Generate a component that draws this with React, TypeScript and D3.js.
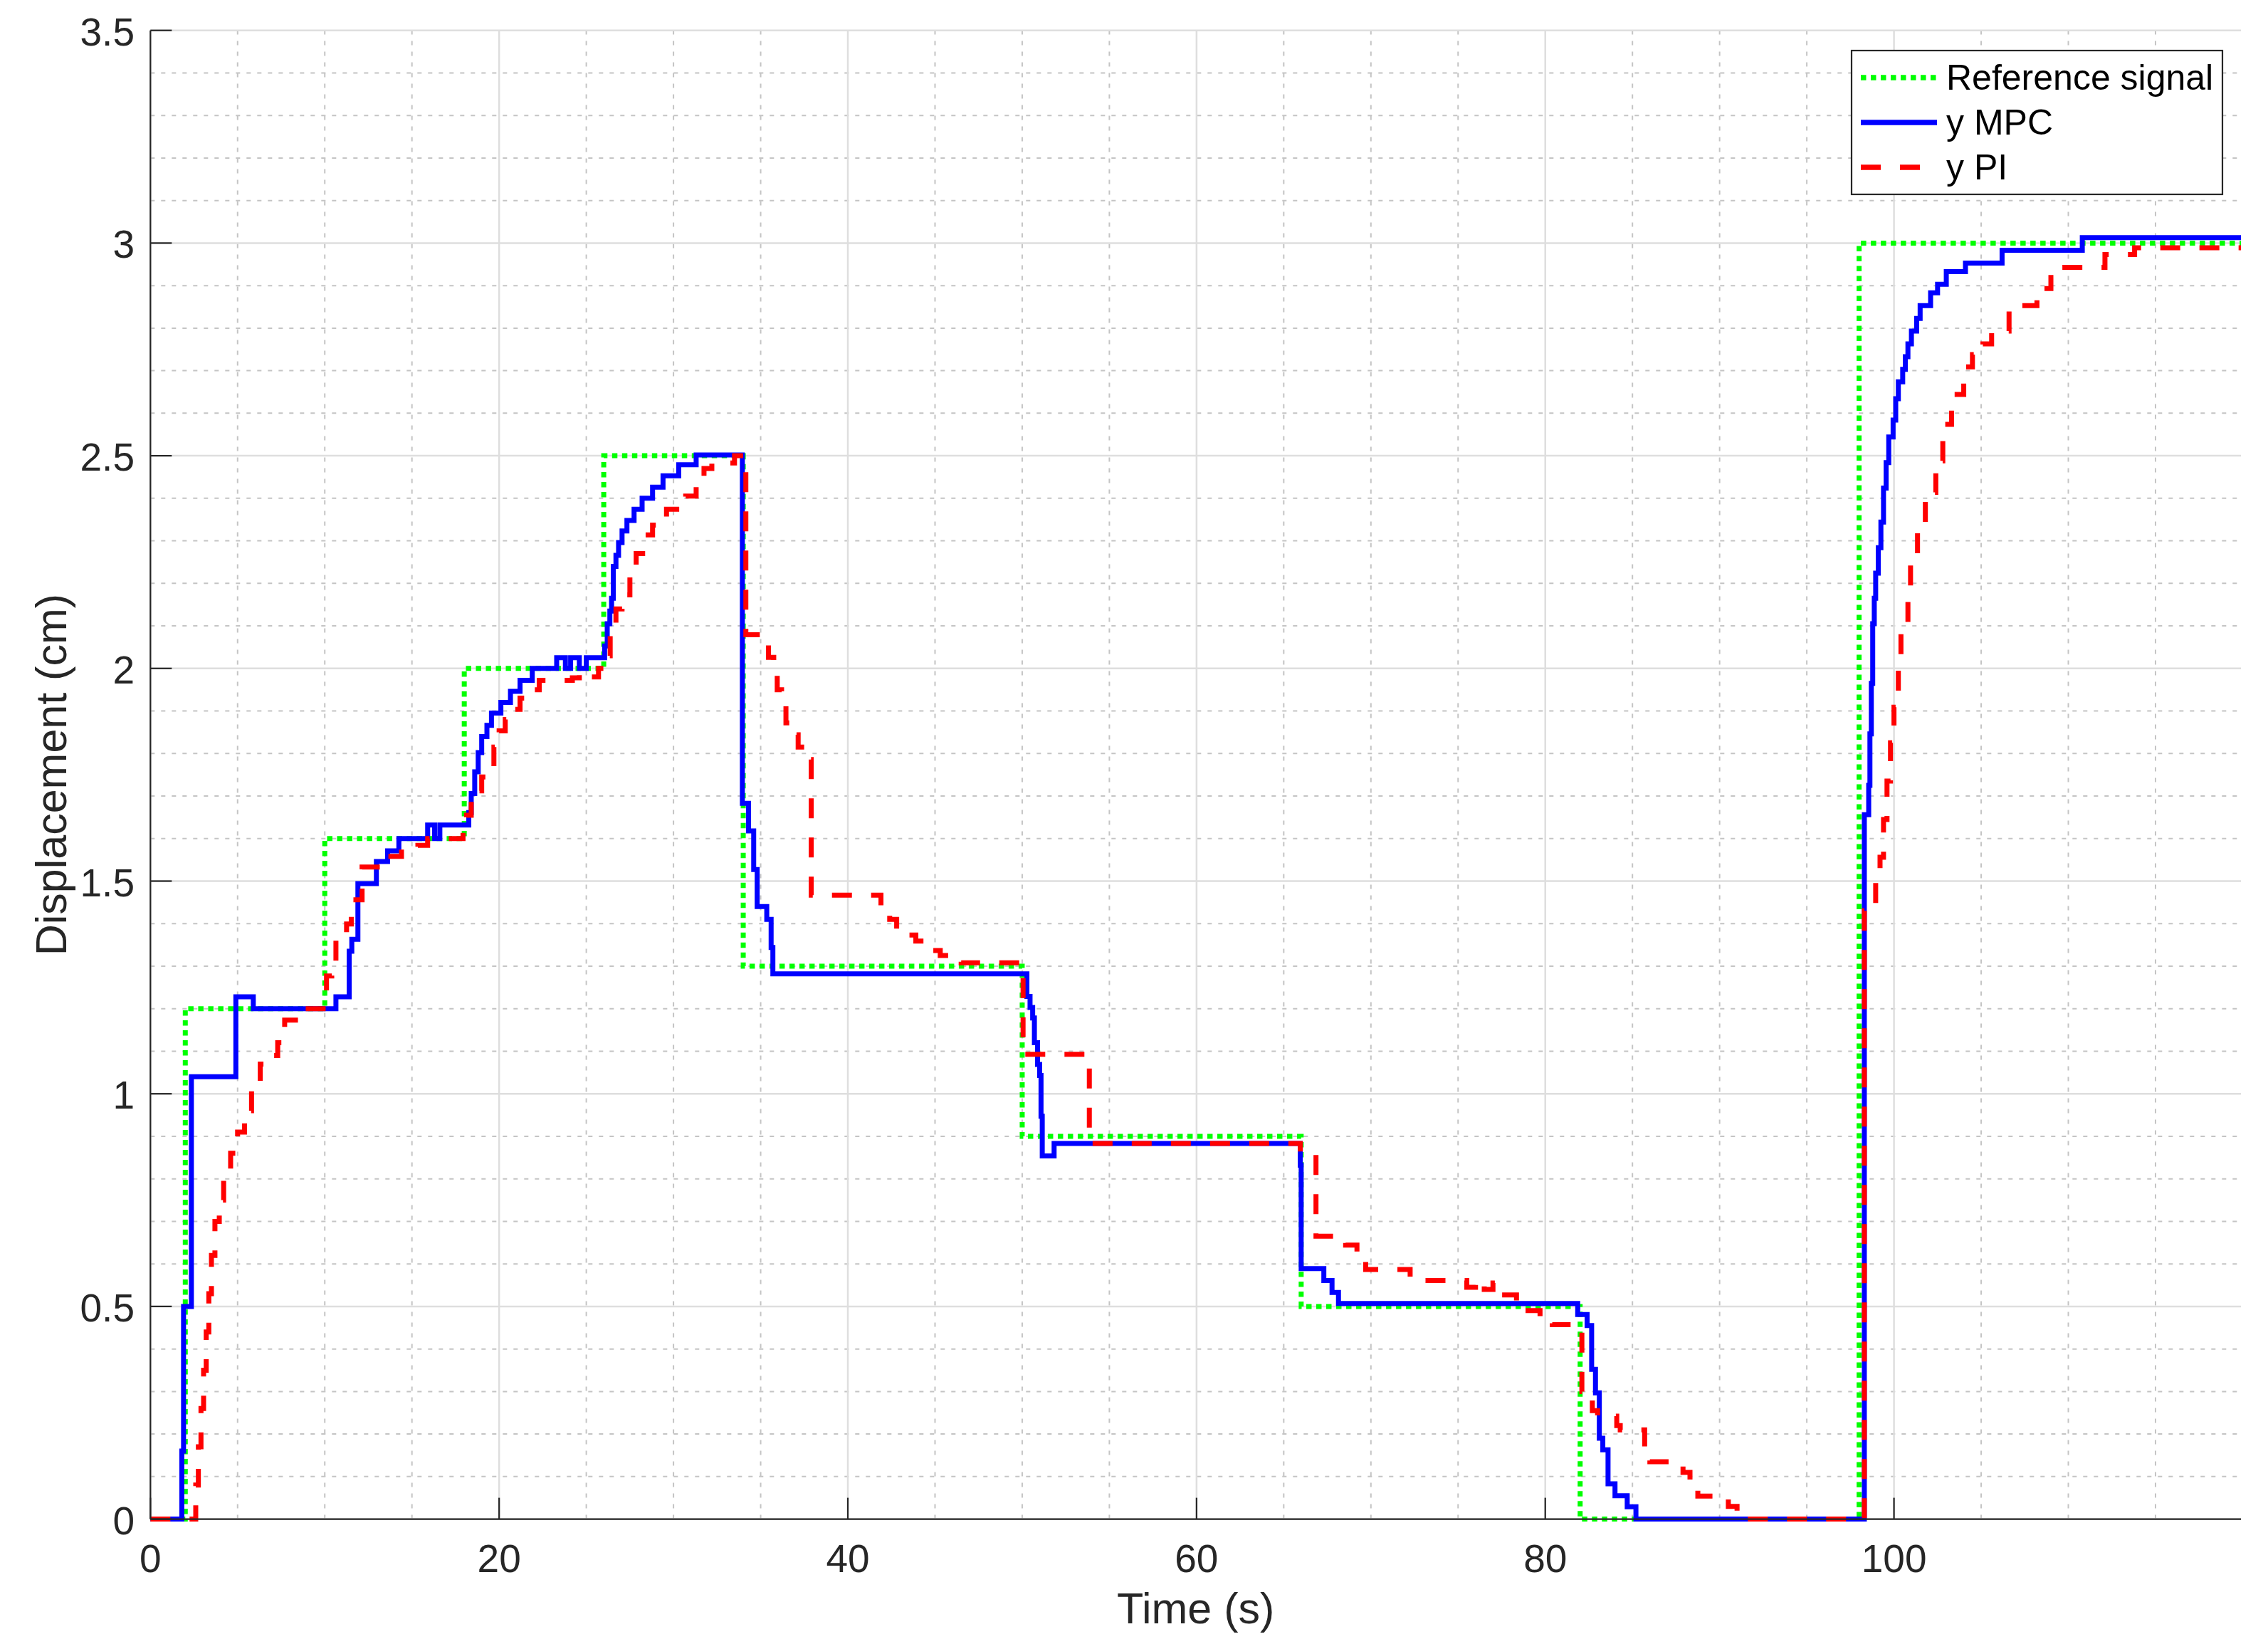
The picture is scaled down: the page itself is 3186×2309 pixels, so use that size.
import React from "react";
import * as d3 from "d3";

// ---------- data ----------
const refTime = [0, 2, 10, 18, 26, 34, 50, 66, 82, 98, 119.9];
const refDisp = [0, 1.2, 1.6, 2.0, 2.5, 1.3, 0.9, 0.5, 0, 3, 3];

const mpcTime = [
  0, 1.8, 1.9, 2.35, 4.9, 5.9, 10.64, 11.4, 11.55, 11.9, 12.96, 13.6, 14.25, 15.9, 16.3, 16.6,
  18.26, 18.4, 18.6, 18.8, 19.0, 19.3, 19.56, 20.1, 20.65, 21.2, 21.9, 23.3, 23.8, 24.1, 24.6, 25.0,
  26.05, 26.2, 26.35, 26.45, 26.55, 26.7, 26.85, 27.05, 27.33, 27.74, 28.2, 28.8, 29.4, 30.3, 31.3,
  33.95, 34.3, 34.6, 34.8, 35.35, 35.6, 35.7,
  50.27, 50.45, 50.6, 50.7, 50.88, 51.0, 51.08, 51.15, 51.83,
  65.95, 66.0, 67.3, 67.77, 68.14,
  81.86, 82.4, 82.66, 82.88, 83.1, 83.3, 83.6, 84.0, 84.7, 85.2,
  98.3, 98.55, 98.62, 98.7, 98.78, 98.87, 98.95, 99.1, 99.25, 99.4, 99.55, 99.7, 99.95, 100.1,
  100.25, 100.5, 100.65, 100.8, 101.0, 101.3, 101.5, 102.1, 102.5, 103.0, 104.1, 106.2, 110.8, 119.9,
];
const mpcDisp = [
  0, 0.16, 0.5, 1.04, 1.228, 1.2, 1.228, 1.335, 1.363, 1.494, 1.546, 1.571, 1.6, 1.632, 1.6, 1.632,
  1.661, 1.706, 1.757, 1.802, 1.84, 1.866, 1.895, 1.92, 1.946, 1.972, 2.0, 2.025, 2.0, 2.025, 2.0, 2.025,
  2.053, 2.105, 2.135, 2.165, 2.24, 2.266, 2.296, 2.323, 2.348, 2.374, 2.4, 2.426, 2.453, 2.479, 2.502,
  1.683, 1.618, 1.527, 1.44, 1.41, 1.344, 1.282,
  1.229, 1.203, 1.178, 1.12, 1.069, 1.043, 0.947, 0.854, 0.883,
  0.832, 0.589, 0.561, 0.533, 0.507,
  0.481, 0.455, 0.352, 0.297, 0.19, 0.163, 0.083, 0.055, 0.029, 0,
  1.656, 1.725, 1.846, 1.965, 2.105, 2.165, 2.224, 2.284, 2.344, 2.424, 2.484, 2.544, 2.584, 2.634,
  2.674, 2.703, 2.733, 2.763, 2.793, 2.823, 2.853, 2.883, 2.903, 2.933, 2.953, 2.983, 3.013, 3.013,
];

const piTime = [
  0, 2.5, 2.6, 2.75, 2.9, 3.05, 3.2, 3.35, 3.5, 3.7, 3.95, 4.2, 4.6, 5.0, 5.4, 5.8, 6.3, 6.8, 7.3, 7.7, 8.9,
  10.1, 10.4, 10.64, 11.25, 11.52, 12.14, 13.16, 14.4, 15.34, 15.9, 17.93, 18.13, 18.4, 18.68, 19.0,
  19.36, 19.7, 20.0, 20.35, 20.7, 21.2, 21.75, 22.3, 24.2, 24.6, 25.0, 25.7, 26.2, 26.37, 26.7, 27.05,
  27.5, 27.86, 28.4, 28.8, 29.6, 30.7, 31.3, 31.75, 32.2, 33.5,
  34.15, 35.45, 35.75, 35.95, 36.2, 36.45, 36.75, 37.15, 37.55, 37.9, 41.9, 42.4, 42.8, 43.3, 43.9,
  44.8, 45.3, 46.5, 50.05, 53.85,
  65.95, 66.85, 68.55, 69.2, 69.7, 72.25, 75.5, 76.0, 76.5, 77.0, 77.5, 78.35, 78.6, 79.7, 80.4,
  82.1, 82.7, 83.0, 84.1, 84.3, 85.7, 86.0, 87.9, 88.3, 88.75, 90.5, 91.0,
  98.3, 98.95, 99.2, 99.4, 99.6, 99.8, 100.0, 100.25, 100.4, 100.8, 100.95, 101.35, 101.8, 102.4,
  102.8, 103.3, 104.0, 104.5, 105.1, 105.6, 106.6, 108.2, 109.0, 109.8, 112.1, 113.8, 119.9,
];
const piDisp = [
  0, 0.0, 0.08, 0.17, 0.26, 0.35, 0.44, 0.53, 0.62, 0.7, 0.75, 0.8, 0.86, 0.91, 0.96, 1.02, 1.07, 1.09, 1.12, 1.173, 1.2,
  1.277, 1.3, 1.363, 1.399, 1.456, 1.533, 1.558, 1.574, 1.584, 1.6, 1.616, 1.655, 1.69, 1.712, 1.745,
  1.776, 1.815, 1.853, 1.88, 1.904, 1.93, 1.95, 1.972, 1.978, 1.99, 1.98, 2.0, 2.03, 2.098, 2.14, 2.173,
  2.24, 2.27, 2.314, 2.337, 2.374, 2.405, 2.44, 2.47, 2.483, 2.5,
  2.079, 2.026, 1.993, 1.95, 1.916, 1.872, 1.844, 1.815, 1.786, 1.467, 1.44, 1.41, 1.387, 1.373, 1.359,
  1.337, 1.325, 1.308, 1.093, 0.883,
  0.85, 0.665, 0.644, 0.609, 0.587, 0.561, 0.545, 0.561, 0.54, 0.555, 0.527, 0.505, 0.49, 0.475, 0.457,
  0.3, 0.255, 0.242, 0.22, 0.21, 0.17, 0.135, 0.11, 0.09, 0.054, 0.03, 0,
  1.43, 1.5, 1.556, 1.645, 1.735, 1.825, 1.909, 1.995, 2.085, 2.165, 2.254, 2.334, 2.414, 2.488,
  2.574, 2.644, 2.709, 2.738, 2.763, 2.793, 2.853, 2.893, 2.919, 2.943, 2.973, 2.989, 2.989,
];

const xTicks = [0, 20, 40, 60, 80, 100];
const yTicks = [0, 0.5, 1, 1.5, 2, 2.5, 3, 3.5];
const legendLabels = ["Reference signal", "y MPC", "y PI"];

// ---------- layout ----------
const W = 3186;
const H = 2309;
const X0 = 211.3;
const X1 = 3148;
const Y0 = 2133.6;
const Y1 = 42.7;
const FONT = "'Liberation Sans', Arial, Helvetica, sans-serif";
const AX = "#262626";

export default function App() {
  const x = d3.scaleLinear().domain([0, 119.9]).range([X0, X1]);
  const y = d3.scaleLinear().domain([0, 3.5]).range([Y0, Y1]);

  const mk = (ts: number[], vs: number[]) =>
    d3
      .line<number>()
      .x((_, i) => x(ts[i]))
      .y((v) => y(v))
      .curve(d3.curveStepAfter)(vs) || "";

  const minorX = d3.range(0, 120, 5).filter((v) => v % 20 !== 0);
  const minorY = d3.range(0, 35).map((k) => k / 10).filter((v) => Math.round(v * 10) % 5 !== 0);

  const series = [
    { d: mk(refTime, refDisp), color: "#00ff00", dash: "7.5 6.5" },
    { d: mk(mpcTime, mpcDisp), color: "#0000ff", dash: undefined },
    { d: mk(piTime, piDisp), color: "#ff0000", dash: "28 27" },
  ];

  const lx0 = 2614;
  const lx1 = 2721;
  const lys = [109, 172, 235];

  return (
    <svg
      width={W}
      height={H}
      style={{ position: "absolute", left: 0, top: 0, display: "block", background: "#fff" }}
      fontFamily={FONT}
    >
      <rect x={0} y={0} width={W} height={H} fill="#fff" />
      {/* minor grid */}
      {minorX.map((v) => (
        <line key={"mx" + v} x1={x(v)} x2={x(v)} y1={Y0} y2={Y1} stroke="#c4c4c4" strokeWidth={2} strokeDasharray="6 9" />
      ))}
      {minorY.map((v) => (
        <line key={"my" + v} x1={X0} x2={X1} y1={y(v)} y2={y(v)} stroke="#c4c4c4" strokeWidth={2} strokeDasharray="6 9" />
      ))}
      {/* major grid */}
      {xTicks.map((v) => (
        <line key={"gx" + v} x1={x(v)} x2={x(v)} y1={Y0} y2={Y1} stroke="#dedede" strokeWidth={2.5} />
      ))}
      {yTicks.map((v) => (
        <line key={"gy" + v} x1={X0} x2={X1} y1={y(v)} y2={y(v)} stroke="#dedede" strokeWidth={2.5} />
      ))}
      {/* data lines */}
      {series.map((s, i) => (
        <path
          key={i}
          d={s.d}
          fill="none"
          stroke={s.color}
          strokeWidth={7}
          strokeDasharray={s.dash}
          strokeLinejoin="miter"
          strokeLinecap="butt"
        />
      ))}
      {/* axes */}
      <line x1={X0} x2={X1} y1={Y0} y2={Y0} stroke={AX} strokeWidth={2.2} />
      <line x1={X0} x2={X0} y1={Y0} y2={Y1} stroke={AX} strokeWidth={2.2} />
      {xTicks.map((v) => (
        <g key={"tx" + v}>
          <line x1={x(v)} x2={x(v)} y1={Y0} y2={Y0 - 30} stroke={AX} strokeWidth={2.2} />
          <text x={x(v)} y={2208} textAnchor="middle" fontSize={55} fill={AX}>
            {v}
          </text>
        </g>
      ))}
      {yTicks.map((v) => (
        <g key={"ty" + v}>
          <line x1={X0} x2={X0 + 30} y1={y(v)} y2={y(v)} stroke={AX} strokeWidth={2.2} />
          <text x={189} y={y(v) + 21} textAnchor="end" fontSize={55} fill={AX}>
            {v}
          </text>
        </g>
      ))}
      {/* axis labels */}
      <text x={(X0 + X1) / 2} y={2280} textAnchor="middle" fontSize={61} fill={AX}>
        Time (s)
      </text>
      <text transform={`translate(93, ${(Y0 + Y1) / 2}) rotate(-90)`} textAnchor="middle" fontSize={61} fill={AX}>
        Displacement (cm)
      </text>
      {/* legend */}
      <rect x={2601} y={71} width={521} height={202} fill="#fff" stroke={AX} strokeWidth={2.2} />
      {series.map((s, i) => (
        <g key={"lg" + i}>
          <line
            x1={lx0}
            x2={lx1}
            y1={lys[i]}
            y2={lys[i]}
            stroke={s.color}
            strokeWidth={7.5}
            strokeDasharray={s.dash}
          />
          <text x={2734} y={lys[i] + 17} fontSize={50} fill="#000">
            {legendLabels[i]}
          </text>
        </g>
      ))}
    </svg>
  );
}
